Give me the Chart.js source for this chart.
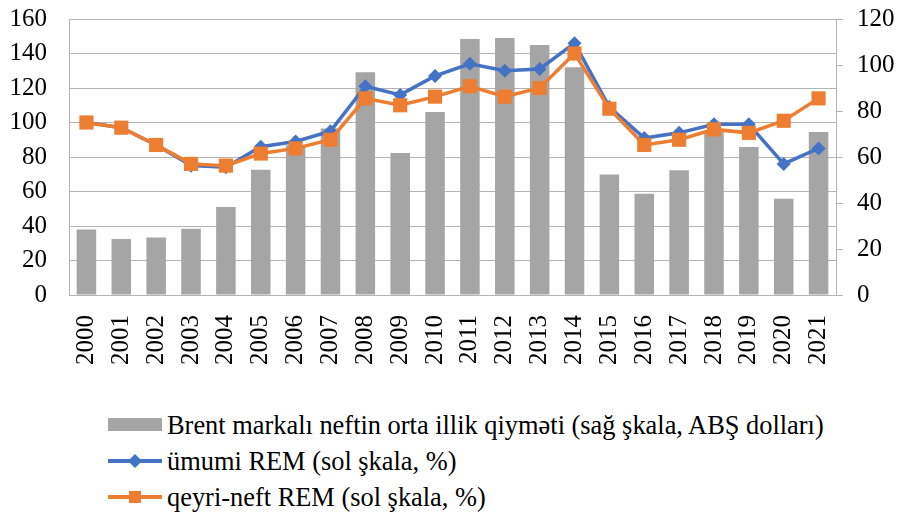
<!DOCTYPE html>
<html>
<head>
<meta charset="utf-8">
<script src="https://cdn.jsdelivr.net/npm/chart.js@4.4.1/dist/chart.umd.min.js"></script>
<style>
    html, body { margin: 0; padding: 0; background: #fff; }
    #wrap { position: relative; width: 903px; height: 512px; }
    #chartBox { position: absolute; left: 0; top: 0; width: 903px; height: 380px; }
    #legend { position: absolute; left: 108px; top: 407px; font-family: "Liberation Serif", "DejaVu Serif", serif; font-size: 26.4px; color: #000; }
    .item { height: 36px; display: flex; align-items: center; white-space: nowrap; }
    .key { position: relative; width: 54px; height: 20px; margin-right: 5px; flex: none; }
    .bar { position: absolute; left: 0; top: 3px; width: 54px; height: 13px; }
    .ln { position: absolute; left: 0; top: 8px; width: 54px; height: 4px; }
    .mk { position: absolute; }
</style>
</head>
<body>
<div id="wrap">
    <div id="chartBox"><canvas id="chartREM" width="903" height="380"></canvas></div>
    <div id="legend"></div>
</div>
<script>
var years = ['2000', '2001', '2002', '2003', '2004', '2005', '2006', '2007', '2008', '2009', '2010',
    '2011', '2012', '2013', '2014', '2015', '2016', '2017', '2018', '2019', '2020', '2021'];
// Brent (right scale, USD)
var brentPrice = [28.5, 24.4, 25.0, 28.8, 38.3, 54.5, 65.1, 72.4, 96.9, 61.7, 79.6,
    111.3, 111.7, 108.7, 99.0, 52.4, 44.0, 54.2, 71.3, 64.3, 41.8, 70.9];
// REM (left scale, %)
var umumiREM = [100, 97, 87, 75, 74, 86, 89, 95, 121, 116, 127,
    134, 130, 131, 146, 109, 91, 94, 99, 99, 76, 85];
var qeyriNeftREM = [100, 97, 87, 76, 75, 82, 85, 90, 114, 110, 115,
    121, 115, 120, 140, 108, 87, 90, 96, 94, 101, 114];
var leftTicks = [0, 20, 40, 60, 80, 100, 120, 140, 160];
var rightTicks = [0, 20, 40, 60, 80, 100, 120];

var seriesNames = [
    'Brent markalı neftin orta illik qiymət' + 'i (sağ şkala, ABŞ dolları)',
    'ümumi REM (sol şkala, %)',
    'qeyri-neft REM (sol şkala, %)'
];
var barColor = '#a5a5a5', blue = '#4472c4', orange = '#ed7d31';
var gridColor = '#b4b4b4';
var tickFont = { family: 'Liberation Serif', size: 25 };

// keep the plot area where the reference has it
function fixVertical(w) {
    return function (scale) {
        scale.width = w;
        scale.paddingTop = 0;
        scale.paddingBottom = 0;
    };
}

var chartCanvas = document.getElementById('chartREM');
var myChart = new Chart(chartCanvas, {
    data: {
        labels: years,
        datasets: [{
            type: 'bar',
            label: seriesNames[0],
            data: brentPrice,
            yAxisID: 'y2',
            backgroundColor: barColor,
            barPercentage: 0.56,
            categoryPercentage: 1,
            order: 3
        }, {
            type: 'line',
            label: seriesNames[1],
            data: umumiREM,
            yAxisID: 'y',
            borderColor: blue,
            backgroundColor: blue,
            borderWidth: 3.5,
            pointStyle: 'rectRot',
            pointRadius: 7,
            pointBorderWidth: 0,
            tension: 0,
            order: 2
        }, {
            type: 'line',
            label: seriesNames[2],
            data: qeyriNeftREM,
            yAxisID: 'y',
            borderColor: orange,
            backgroundColor: orange,
            borderWidth: 3.5,
            pointStyle: 'rect',
            pointRadius: 10,
            pointBorderWidth: 0,
            tension: 0,
            order: 1
        }]
    },
    options: {
        responsive: false,
        animation: false,
        layout: { padding: { top: 19, left: 0, right: 0, bottom: 0 } },
        plugins: {
            legend: { display: false },
            tooltip: { enabled: false }
        },
        scales: {
            x: {
                grid: { display: false },
                border: { display: true, color: gridColor },
                ticks: {
                    color: '#000',
                    font: tickFont,
                    minRotation: 90,
                    maxRotation: 90,
                    padding: 12,
                    autoSkip: false
                },
                afterFit: function (scale) {
                    scale.height = 85;
                    scale.paddingLeft = 0;
                    scale.paddingRight = 0;
                }
            },
            y: {
                position: 'left',
                min: 0,
                max: 160,
                afterBuildTicks: function (scale) {
                    scale.ticks = leftTicks.map(function (v) { return { value: v }; });
                },
                grid: { color: gridColor, drawTicks: false },
                border: { display: true, color: gridColor },
                ticks: { color: '#000', font: tickFont, padding: 22, autoSkip: false },
                afterFit: fixVertical(69)
            },
            y2: {
                position: 'right',
                min: 0,
                max: 120,
                afterBuildTicks: function (scale) {
                    scale.ticks = rightTicks.map(function (v) { return { value: v }; });
                },
                grid: { drawOnChartArea: false, color: gridColor, tickLength: 7 },
                border: { display: true, color: gridColor },
                ticks: { color: '#000', font: tickFont, padding: 14, autoSkip: false },
                afterFit: fixVertical(67)
            }
        }
    }
});

// legend below the chart, one entry per line
function BindLegend() {
    var legendBox = document.getElementById('legend');
    myChart.data.datasets.forEach(function (ds) {
        var row = document.createElement('div');
        row.className = 'item';
        var key = document.createElement('span');
        key.className = 'key';
        if (ds.type === 'bar') {
            key.innerHTML = '<span class="bar" style="background:' + ds.backgroundColor + '"></span>';
        } else {
            var mk = ds.pointStyle === 'rectRot'
                ? '<span class="mk" style="left:22px;top:5px;width:10px;height:10px;transform:rotate(45deg);background:' + ds.borderColor + '"></span>'
                : '<span class="mk" style="left:21px;top:4px;width:12px;height:12px;background:' + ds.borderColor + '"></span>';
            key.innerHTML = '<span class="ln" style="background:' + ds.borderColor + '"></span>' + mk;
        }
        row.appendChild(key);
        var txt = document.createElement('span');
        txt.textContent = ds.label;
        row.appendChild(txt);
        legendBox.appendChild(row);
    });
}
BindLegend();
</script>
</body>
</html>
